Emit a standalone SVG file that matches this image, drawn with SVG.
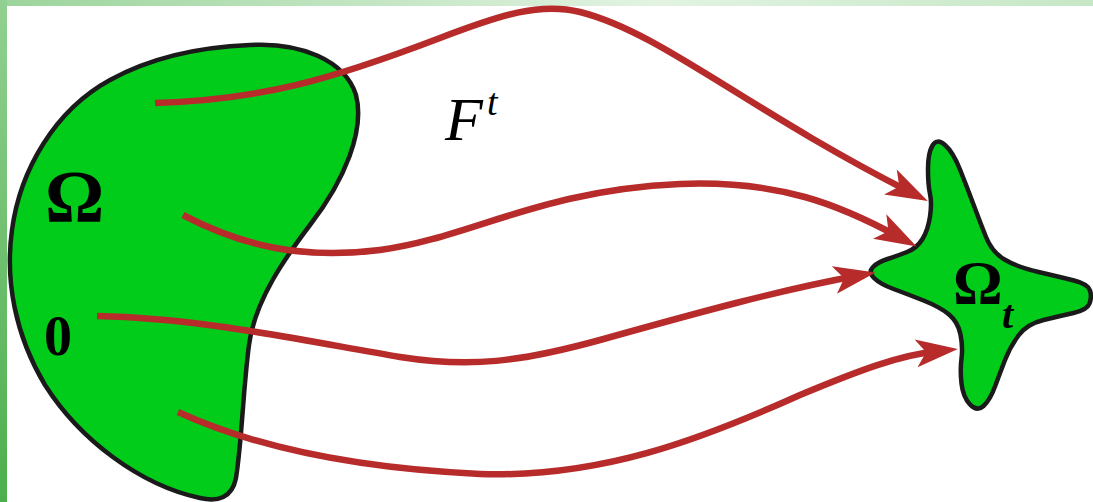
<svg xmlns="http://www.w3.org/2000/svg" width="1093" height="502" viewBox="0 0 1093 502">
  <defs>
    <linearGradient id="gLeft" x1="0" y1="0" x2="0" y2="1">
      <stop offset="0" stop-color="#92d092"/>
      <stop offset="1" stop-color="#4caf4c"/>
    </linearGradient>
    <linearGradient id="gTop" x1="0" y1="0" x2="1" y2="0">
      <stop offset="0" stop-color="#9cd49c"/>
      <stop offset="0.6" stop-color="#e2f3e2"/>
      <stop offset="1" stop-color="#c6e7c6"/>
    </linearGradient>
    <marker id="arrow" markerUnits="userSpaceOnUse" orient="auto" refX="0" refY="0" viewBox="-24 -16 46 32" markerWidth="46" markerHeight="32" overflow="visible">
      <path d="M 20 0 L -22 -14 L -12 0 L -22 14 Z" fill="#b72b2b"/>
    </marker>
    <style>
      .region { fill: #02cc1a; stroke: #1a1a1a; stroke-width: 4.5; stroke-linejoin: round; }
      .flow { fill: none; stroke: #b72b2b; stroke-width: 6.5; marker-end: url(#arrow); }
      .sym { font-family: "Liberation Serif", "Times New Roman", serif; fill: #000; }
    </style>
  </defs>

  <rect x="0" y="0" width="1093" height="502" fill="#ffffff"/>
  <rect x="0" y="0" width="1093" height="6" fill="url(#gTop)"/>
  <rect x="0" y="0" width="7" height="502" fill="url(#gLeft)"/>

  <g id="omega">
    <path class="region" d="M 250 45 C 300 42, 345 60, 356 95 C 365 130, 345 180, 310 225 C 285 258, 255 300, 249 345 C 243 390, 242 440, 236 478 C 232 498, 218 502, 200 498 C 140 485, 80 440, 45 385 C 15 335, 5 280, 12 230 C 20 170, 55 110, 110 80 C 150 58, 200 47, 250 45 Z"/>
    <text class="sym" x="45" y="222" font-size="74" font-weight="bold">Ω</text>
    <text class="sym" x="44" y="355" font-size="56" font-weight="bold">0</text>
  </g>

  <g id="omega-t">
    <path class="region" d="M 932.5 145.5 Q 937 138 945 145 Q 953 152 960 169.5 Q 967 187 973.5 204.5 Q 980 222 986 237 Q 992 252 1004.5 259.5 Q 1017 267 1038.5 272 Q 1060 277 1074 280.5 Q 1088 284 1090 290.5 Q 1092 297 1089.5 303.5 Q 1087 310 1073.5 313 Q 1060 316 1043.5 320 Q 1027 324 1018.5 335.5 Q 1010 347 1005 360 Q 1000 373 995 386.5 Q 990 400 983.5 406 Q 977 412 970 404.5 Q 963 397 961.5 383.5 Q 960 370 961.5 358.5 Q 963 347 960.5 334.5 Q 958 322 949 314.5 Q 940 307 923.5 300.5 Q 907 294 893.5 289 Q 880 284 874 278 Q 868 272 873 267 Q 878 262 887.5 259 Q 897 256 907 252 Q 917 248 922.5 239 Q 928 230 930 216.5 Q 932 203 930 194 Q 928 185 928 169 Q 928 153 932.5 145.5 Z"/>
    <text class="sym" x="953" y="303" font-size="62" font-weight="bold">Ω</text>
    <text class="sym" x="1002" y="328" font-size="40" font-weight="bold" font-style="italic">t</text>
  </g>

  <g id="label-F">
    <text class="sym" x="445" y="140" font-size="62" font-style="italic">F</text>
    <text class="sym" x="487" y="115" font-size="38" font-style="italic">t</text>
  </g>

  <g id="connectors">
    <path class="flow" d="M 155 103 C 260 100, 330 80, 440 38 C 500 15, 540 2, 580 12 C 660 32, 745 108, 910 192"/>
    <path class="flow" d="M 183 215 C 240 245, 300 260, 380 250 C 470 238, 540 190, 680 184 C 780 180, 840 205, 899 237"/>
    <path class="flow" d="M 97 316 C 200 318, 300 340, 400 357 C 470 368, 520 362, 600 340 C 700 312, 780 290, 856 276"/>
    <path class="flow" d="M 178 412 C 250 445, 350 468, 480 474 C 600 478, 700 440, 800 395 C 860 370, 900 355, 938 351"/>
  </g>
</svg>
